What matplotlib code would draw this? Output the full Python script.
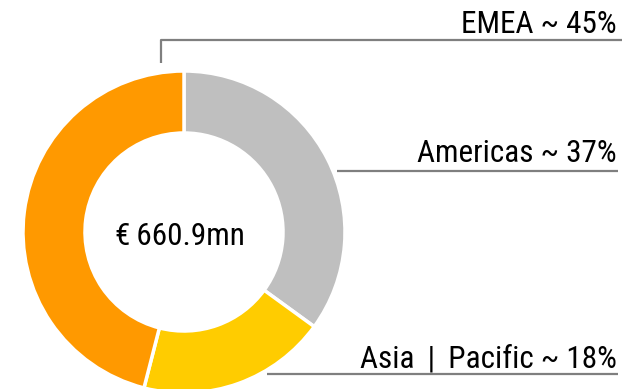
import matplotlib
matplotlib.use("Agg")
import matplotlib.pyplot as plt
from matplotlib import font_manager

regions = ["Americas", "Asia | Pacific", "EMEA"]
shares = [35.0, 19.0, 46.0]
labels = ["Americas ~ 37%", "Asia \u2009|\u2009 Pacific ~ 18%", "EMEA ~ 45%"]
colors = ["#bfbfbf", "#ffcc00", "#ff9900"]
total_label = "\u20ac\u2009660.9mn"

W, H = 622, 389

names = {f.name for f in font_manager.fontManager.ttflist}
pref = [n for n in ["Roboto Condensed", "Liberation Sans Narrow", "Roboto"] if n in names]
family = pref[:1] + ["DejaVu Sans"]
plt.rcParams['font.family'] = family

fig = plt.figure(figsize=(W / 100, H / 100), dpi=100)
ax = fig.add_axes([0, 0, 1, 1])

cx, cy, r = 184, H - 232, 161
ax.pie(shares, colors=colors, startangle=90, counterclock=False,
       center=(cx, cy), radius=r, frame=True,
       wedgeprops=dict(width=r * 0.385, edgecolor='white', linewidth=2.5))
ax.set_xlim(0, W)
ax.set_ylim(0, H)
ax.set_aspect('equal')
ax.axis('off')

fs = 22.5
ax.text(180, H - 245, total_label, ha='center', va='baseline', fontsize=fs)

line_kw = dict(color='#7f7f7f', lw=1.6, solid_capstyle='butt')
# EMEA leader
ax.plot([161, 161, W], [H - 63, H - 40, H - 40], **line_kw)
ax.text(617, H - 33, labels[2], ha='right', va='baseline', fontsize=fs)
# Americas leader
ax.plot([337, 618], [H - 171, H - 171], **line_kw)
ax.text(617, H - 162, labels[0], ha='right', va='baseline', fontsize=fs)
# Asia | Pacific leader
ax.plot([267, 618], [H - 374, H - 374], **line_kw)
ax.text(617, H - 367, labels[1], ha='right', va='baseline', fontsize=fs)

fig.savefig("out.png", dpi=100)
